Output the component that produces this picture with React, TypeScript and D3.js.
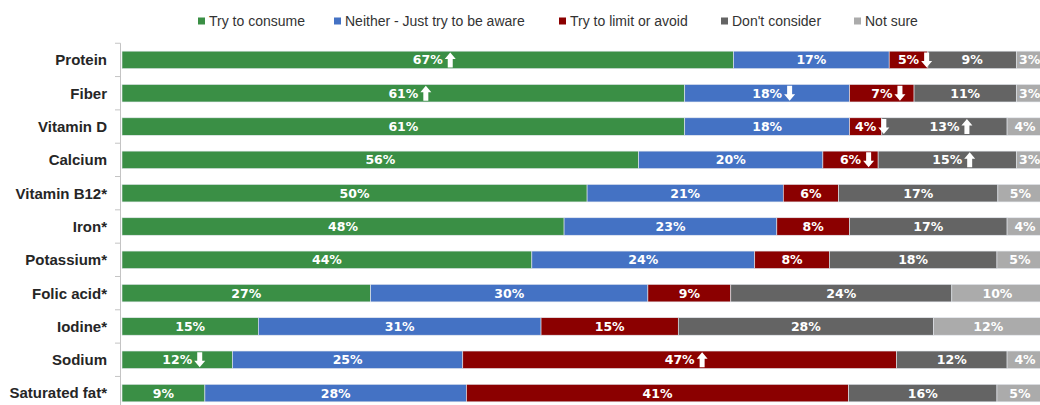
import * as d3 from "d3";
import * as React from "react";

const categories = [
  "Protein", "Fiber", "Vitamin D", "Calcium", "Vitamin B12*", "Iron*",
  "Potassium*", "Folic acid*", "Iodine*", "Sodium", "Saturated fat*",
];
const seriesNames = [
  "Try to consume", "Neither - Just try to be aware", "Try to limit or avoid",
  "Don't consider", "Not sure",
];
// segment sizes (unrounded shares, as measured off the bars)
const consume = [66.4, 61.1, 61.1, 56.1, 50.5, 48.0, 44.5, 27.0, 14.8, 12.0, 9.0];
const neither = [16.9, 17.9, 17.9, 20.0, 21.3, 23.1, 24.2, 30.1, 30.7, 25.0, 28.4];
const limit = [4.2, 7.0, 3.5, 6.0, 6.0, 7.9, 8.1, 9.0, 14.9, 47.1, 41.5];
const dontConsider = [9.6, 11.1, 13.6, 15.0, 17.3, 17.1, 18.2, 24.0, 27.7, 12.0, 16.1];
const notSure = [2.9, 2.9, 3.9, 2.9, 4.9, 3.9, 5.0, 9.9, 11.9, 3.9, 5.0];
// printed labels
const consumeLabels = [67, 61, 61, 56, 50, 48, 44, 27, 15, 12, 9];
const neitherLabels = [17, 18, 18, 20, 21, 23, 24, 30, 31, 25, 28];
const limitLabels = [5, 7, 4, 6, 6, 8, 8, 9, 15, 47, 41];
const dontLabels = [9, 11, 13, 15, 17, 17, 18, 24, 28, 12, 16];
const notSureLabels = [3, 3, 4, 3, 5, 4, 5, 10, 12, 4, 5];
// change arrows: "u" up, "d" down
const consumeArrows = ["u", "u", "", "", "", "", "", "", "", "d", ""];
const neitherArrows = ["", "d", "", "", "", "", "", "", "", "", ""];
const limitArrows = ["d", "d", "d", "d", "", "", "", "", "", "u", ""];
const dontArrows = ["", "", "u", "u", "", "", "", "", "", "", ""];
const notSureArrows = ["", "", "", "", "", "", "", "", "", "", ""];

const colors = ["#3a8f45", "#4472c4", "#8b0000", "#646464", "#ababab"];

const W = 1040;
const H = 405;
const valueFont = 12.5;

const Arrow = ({ x, y, dir }: { x: number; y: number; dir: string }) => {
  // white block arrow, 11 wide, 15 tall
  const s = dir === "u" ? 1 : -1;
  const p = [
    [5.5, -7.5], [11, -1], [8, -1], [8, 7.5], [3, 7.5], [3, -1], [0, -1],
  ]
    .map(([px, py], i) => `${i ? "L" : "M"}${x + px},${y + s * py}`)
    .join(" ") + " Z";
  return <path d={p} fill="#fff" />;
};

export default function App() {
  const series = [consume, neither, limit, dontConsider, notSure];
  const labels = [consumeLabels, neitherLabels, limitLabels, dontLabels, notSureLabels];
  const arrows = [consumeArrows, neitherArrows, limitArrows, dontArrows, notSureArrows];

  const x = d3.scaleLinear().domain([0, 100]).range([122, 1043]);
  const y = d3
    .scaleBand()
    .domain(categories)
    .range([42.5, 410.5])
    .paddingInner(0.475)
    .paddingOuter(0.26);

  const stackData = categories.map((c, i) => {
    const row: any = { cat: c };
    seriesNames.forEach((s, j) => (row[s] = series[j][i]));
    return row;
  });
  const stacked = d3.stack().keys(seriesNames)(stackData);

  const legendX = [198, 334, 559, 721, 854];
  const step = y.step();
  const top = (y(categories[0]) as number) + y.bandwidth() / 2 - step / 2;
  const bh = y.bandwidth();

  return (
    <div style={{ position: "absolute", left: 0, top: 0 }}>
      <svg width={W} height={H} style={{ display: "block", background: "#fff" }}>
        {seriesNames.map((s, j) => (
          <g key={s} transform={`translate(${legendX[j]},21)`}>
            <rect x={0} y={-3.5} width={7} height={7} fill={colors[j]} />
            <text x={11} y={0} dy="0.35em" fontFamily="Liberation Sans, Arial, sans-serif" fontSize={14} fill="#333">
              {s}
            </text>
          </g>
        ))}

        <line x1={120.5} x2={120.5} y1={top} y2={410} stroke="#c4c4c4" />
        {categories.map((c, i) => (
          <line key={"t" + i} x1={115} x2={120.5} y1={top + i * step} y2={top + i * step} stroke="#c4c4c4" />
        ))}
        {categories.map((c) => (
          <text key={"c" + c} x={107} y={(y(c) as number) + bh / 2} dy="0.36em" textAnchor="end"
            fontFamily="Liberation Sans, Arial, sans-serif" fontWeight="bold" fontSize={15} fill="#262626">
            {c}
          </text>
        ))}

        {/* bar segments */}
        {stacked.map((layer, j) => (
          <g key={layer.key}>
            {layer.map((d, i) => (
              <rect key={i} x={x(d[0])} y={y(categories[i]) as number} width={x(d[1]) - x(d[0])} height={bh}
                fill={colors[j]} stroke="#e4e8ee" strokeWidth={0.6} />
            ))}
          </g>
        ))}

        {/* value labels and arrows on top of all segments */}
        {stacked.map((layer, j) => (
          <g key={"l" + layer.key}>
            {layer.map((d, i) => {
              const cx = (x(d[0]) + x(d[1])) / 2;
              const cy = (y(categories[i]) as number) + bh / 2;
              const label = labels[j][i] + "%";
              const ar = arrows[j][i];
              const tw = ((label.length - 1) * 0.696 + 1.002) * valueFont;
              return (
                <g key={i}>
                  <text x={cx} y={cy} dy="0.36em" textAnchor="middle"
                    fontFamily="DejaVu Sans, Verdana, sans-serif" fontWeight="bold" fontSize={valueFont} fill="#fff">
                    {label}
                  </text>
                  {ar && <Arrow x={cx + tw / 2 + 2} y={cy} dir={ar} />}
                </g>
              );
            })}
          </g>
        ))}
      </svg>
    </div>
  );
}
